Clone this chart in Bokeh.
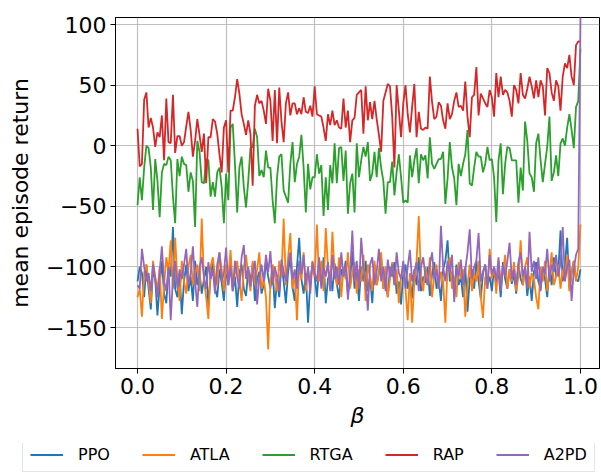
from bokeh.plotting import figure
from bokeh.models import Range1d, FixedTicker, Legend, LegendItem
from bokeh.layouts import column
from bokeh.embed import file_html
from bokeh.resources import INLINE

beta = [i / 200 for i in range(201)]

ppo = [
    -112, -100, -105, -125, -98, -118, -135, -103, -110, -140,
    -115, -95, -122, -130, -100, -108, -67, -118, -125, -105,
    -139, -112, -98, -120, -108, -128, -95, -115, -104, -122,
    -110, -100, -132, -108, -96, -118, -125, -102, -113, -128,
    -100, -115, -92, -120, -108, -133, -105, -98, -118, -124,
    -102, -112, -97, -128, -110, -104, -122, -115, -95, -108,
    -118, -102, -134, -110, -125, -98, -112, -130, -104, -92,
    -117, -128, -100, -76, -110, -122, -105, -146, -112, -98,
    -108, -125, -100, -115, -92, -130, -110, -104, -120, -97,
    -114, -126, -102, -108, -95, -122, -110, -87, -118, -104,
    -128, -100, -112, -95, -120, -108, -130, -98, -115, -105,
    -92, -118, -110, -125, -100, -108, -96, -122, -112, -131,
    -105, -98, -118, -110, -126, -102, -115, -92, -120, -108,
    -113, -100, -124, -106, -96, -118, -110, -128, -102, -95,
    -78, -112, -104, -122, -98, -115, -108, -125, -100, -137,
    -110, -102, -118, -95, -112, -126, -105, -98, -115, -108,
    -120, -100, -112, -104, -125, -96, -110, -118, -102, -114,
    -106, -122, -98, -110, -115, -100, -124, -108, -128, -104,
    -96, -112, -118, -102, -110, -125, -100, -115, -92, -108,
    -104, -70, -112, -98, -76, -118, -105, -95, -110, -112,
    -102,
]

atla = [
    -125, -118, -141, -105, -98, -112, -130, -95, -108, -120,
    -100, -143, -115, -92, -104, -78, -118, -76, -110, -128,
    -95, -112, -122, -100, -90, -115, -106, -98, -120, -60,
    -110, -125, -143, -100, -92, -108, -115, -88, -102, -120,
    -98, -110, -86, -118, -105, -95, -112, -128, -100, -90,
    -108, -120, -95, -115, -102, -88, -118, -110, -125, -168,
    -112, -98, -105, -120, -95, -108, -60, -115, -92, -72,
    -118, -105, -144, -98, -110, -88, -120, -102, -115, -95,
    -108, -65, -112, -95, -120, -68, -100, -118, -71, -105,
    -115, -92, -125, -100, -110, -88, -118, -105, -96, -122,
    -102, -112, -90, -128, -98, -108, -120, -95, -115, -104,
    -88, -118, -100, -125, -110, -96, -115, -102, -130, -108,
    -98, -118, -144, -105, -146, -112, -95, -58, -108, -120,
    -100, -115, -92, -125, -108, -98, -118, -104, -112, -146,
    -100, -92, -118, -108, -125, -96, -110, -102, -141, -115,
    -98, -120, -105, -112, -95, -125, -142, -108, -118, -85,
    -110, -100, -122, -95, -115, -105, -90, -118, -102, -112,
    -96, -120, -108, -78, -115, -100, -92, -118, -105, -110,
    -125, -135, -100, -112, -95, -120, -105, -88, -115, -108,
    -98, -118, -102, -110, -90, -120, -104, -95, -112, -100,
    -65,
]

rtga = [
    -49, -26, -45, -18, 0, -2, -18, -53, -11, -29,
    -59, -22, -15, -16, -9, -12, -42, -64, -11, -25,
    -9, -15, -16, -38, -22, -29, -67, 4, -5, -30,
    -31, -11, -12, -42, -30, -42, -22, -18, -34, -64,
    -23, -45, 15, 18, -15, -55, -18, -9, -34, -51,
    -29, -2, -1, 14, 7, -25, -20, -26, -4, -18,
    -18, -45, -64, -26, -9, -7, -37, -42, -47, -15,
    3, -30, -15, -9, 9, -18, -55, -15, -36, -26,
    -26, -7, -23, -16, -58, -26, -53, -16, -31, 2,
    -31, -2, -1, -29, -4, -56, -31, -23, -55, 2,
    -26, -12, -1, -9, 3, -29, -23, -5, -26, -2,
    -18, -29, -56, -30, -30, -13, -41, -22, -7, -26,
    -47, -45, -47, -8, -26, -12, -2, -31, -7, -12,
    -8, -27, 7, -15, -19, -15, -11, -11, -5, -48,
    -27, 3, -18, -27, -49, -15, -25, -15, -7, 13,
    -31, -33, -18, -5, -9, -9, -22, -15, -1, -12,
    -11, -26, -63, -12, 2, -40, -15, -1, -2, -12,
    -12, -12, -47, -18, -37, 20, 4, -23, -26, -38,
    2, 10, -12, -30, -15, -1, 24, -29, -22, -8,
    -25, 2, 6, 0, 15, 26, 13, -2, 32, 37,
    80,
]

rap = [
    14, -17, -15, 38, 44, 15, 23, 15, -1, 11,
    7, 25, -12, 39, 3, 2, 42, -6, 8, 8,
    0, 3, 16, 28, 13, -9, 4, 22, 9, -5,
    10, -31, 7, 7, 22, 20, 10, -7, -22, 15,
    21, -22, 29, 29, 40, 55, 43, 26, 18, 9,
    21, 10, -33, 33, 42, 35, 37, 29, 18, 47,
    37, 4, 46, 2, 48, 20, 3, 35, 44, 25,
    35, 35, 26, 31, 26, 40, 28, 27, 33, 24,
    49, 26, 25, 24, 15, 4, 26, 17, 29, 17,
    21, 15, 14, 39, 15, 29, 3, 21, 23, 42,
    44, 46, 10, 49, 21, 36, 22, 37, 22, 9,
    -5, 37, 44, 51, 49, 24, -18, 50, 29, 7,
    35, 50, 26, 11, 32, 51, 7, 28, 14, 13,
    15, 14, 57, 36, 22, 24, 36, 33, 21, 14,
    35, 22, 26, 37, 44, 32, 33, 29, 53, 24,
    7, 40, 42, 65, 25, 43, 39, 35, 32, 46,
    40, 24, 60, 40, 57, 42, 46, 44, 37, 24,
    50, 46, 35, 60, 42, 39, 47, 57, 49, 39,
    54, 40, 54, 49, 25, 64, 60, 44, 37, 54,
    49, 29, 57, 68, 64, 75, 57, 50, 83, 86,
    86,
]

a2pd = [
    -115, -118, -85, -100, -112, -105, -120, -98, -110, -125,
    -104, -83, -112, -120, -100, -144, -108, -95, -118, -102,
    -110, -98, -85, -115, -105, -83, -112, -133, -100, -92,
    -108, -118, -96, -110, -102, -122, -98, -88, -112, -105,
    -84, -115, -100, -120, -95, -108, -118, -92, -82, -110,
    -100, -116, -105, -95, -131, -108, -98, -112, -90, -104,
    -87, -115, -100, -108, -120, -94, -104, -112, -98, -88,
    -110, -102, -118, -95, -106, -90, -115, -100, -122, -96,
    -105, -112, -92, -118, -100, -108, -96, -120, -90, -110,
    -100, -115, -88, -108, -98, -127, -105, -70, -112, -95,
    -118, -76, -100, -110, -136, -98, -92, -115, -104, -85,
    -112, -100, -120, -94, -108, -98, -115, -88, -105, -110,
    -95, -118, -100, -86, -112, -104, -96, -120, -100, -92,
    -108, -115, -98, -88, -110, -102, -118, -66, -100, -112,
    -95, -105, -90, -129, -100, -108, -94, -115, -102, -88,
    -69, -110, -100, -95, -72, -112, -104, -98, -118, -90,
    -106, -100, -112, -92, -120, -98, -108, -95, -80, -110,
    -102, -115, -96, -88, -108, -100, -118, -71, -104, -95,
    -110, -92, -120, -100, -106, -85, -112, -98, -104, -90,
    -108, -96, -67, -112, -100, -94, -128, -102, -90, -85,
    106,
]

series_names = ["PPO", "ATLA", "RTGA", "RAP", "A2PD"]
series_colors = ["#1f77b4", "#ff7f0e", "#2ca02c", "#d62728", "#9467bd"]

x_ticks = [0.0, 0.2, 0.4, 0.6, 0.8, 1.0]
x_tick_labels = ["0.0", "0.2", "0.4", "0.6", "0.8", "1.0"]
y_ticks = [-150, -100, -50, 0, 50, 100]
y_tick_labels = ["\u2212150", "\u2212100", "\u221250", "0", "50", "100"]

FONT = "DejaVu Sans"

p = figure(
    width=600, height=443,
    x_range=Range1d(-0.0497, 1.043), y_range=Range1d(-183.8, 105.8),
    output_backend="svg", toolbar_location=None,
    min_border_left=115, min_border_right=1, min_border_top=17, min_border_bottom=75,
)
p.background_fill_color = "white"
p.border_fill_color = "white"
p.outline_line_color = "black"
p.outline_line_width = 1

p.xaxis.ticker = FixedTicker(ticks=x_ticks)
p.xaxis.major_label_overrides = {t: s for t, s in zip(x_ticks, x_tick_labels)}
p.yaxis.ticker = FixedTicker(ticks=y_ticks)
p.yaxis.major_label_overrides = {t: s for t, s in zip(y_ticks, y_tick_labels)}
p.xgrid.ticker = FixedTicker(ticks=x_ticks)
p.ygrid.ticker = FixedTicker(ticks=y_ticks)

for ax in (p.xaxis[0], p.yaxis[0]):
    ax.major_label_text_font = FONT
    ax.major_label_text_font_size = "22px"
    ax.major_label_text_color = "black"
    ax.axis_label_text_font = FONT
    ax.axis_label_text_font_size = "22px"
    ax.axis_label_text_color = "black"
    ax.minor_tick_line_color = None
    ax.major_tick_out = 5
    ax.major_tick_in = 0
    ax.major_tick_line_color = "black"
    ax.axis_line_color = "black"
    ax.major_label_standoff = 4

p.xaxis.axis_label = "\u03b2"
p.xaxis.axis_label_text_font_style = "italic"
p.xaxis.axis_label_standoff = 6
p.yaxis.axis_label = "mean episode return"
p.yaxis.axis_label_text_font_style = "normal"
p.yaxis.axis_label_standoff = 10

p.grid.grid_line_color = "#b0b0b0"
p.grid.grid_line_alpha = 0.8
p.grid.grid_line_width = 1.2

all_series = [ppo, atla, rtga, rap, a2pd]
for vals, col in zip(all_series, series_colors):
    p.line(beta, vals, line_color=col, line_width=1.8)

# legend strip below the plot (series drawn out of its visible range)
lg = figure(
    width=600, height=29, x_range=Range1d(0, 1), y_range=Range1d(1000, 1001),
    output_backend="svg", toolbar_location=None,
    min_border_left=0, min_border_right=0, min_border_top=0, min_border_bottom=0,
)
for fig in (p, lg):
    try:
        fig.frame_align = False
    except AttributeError:
        pass
lg.axis.visible = False
lg.grid.visible = False
lg.outline_line_color = None
lg.background_fill_color = "white"
lg.border_fill_color = "white"
leg_renderers = []
for vals, col in zip(all_series, series_colors):
    leg_renderers.append(lg.line(beta, vals, line_color=col, line_width=1.8))

legend = Legend(
    items=[LegendItem(label=n, renderers=[r]) for n, r in zip(series_names, leg_renderers)],
    orientation="horizontal",
    location=(22, 0),
    label_text_font=FONT,
    label_text_font_size="16px",
    label_text_color="black",
    glyph_width=33,
    glyph_height=15,
    label_height=15,
    label_standoff=15,
    spacing=32,
    padding=7,
    margin=0,
    border_line_color="#cccccc",
    border_line_width=1,
    background_fill_color="white",
)
lg.add_layout(legend, "center")

layout = column(p, lg, spacing=0)
open("out.html", "w").write(file_html(layout, INLINE))
